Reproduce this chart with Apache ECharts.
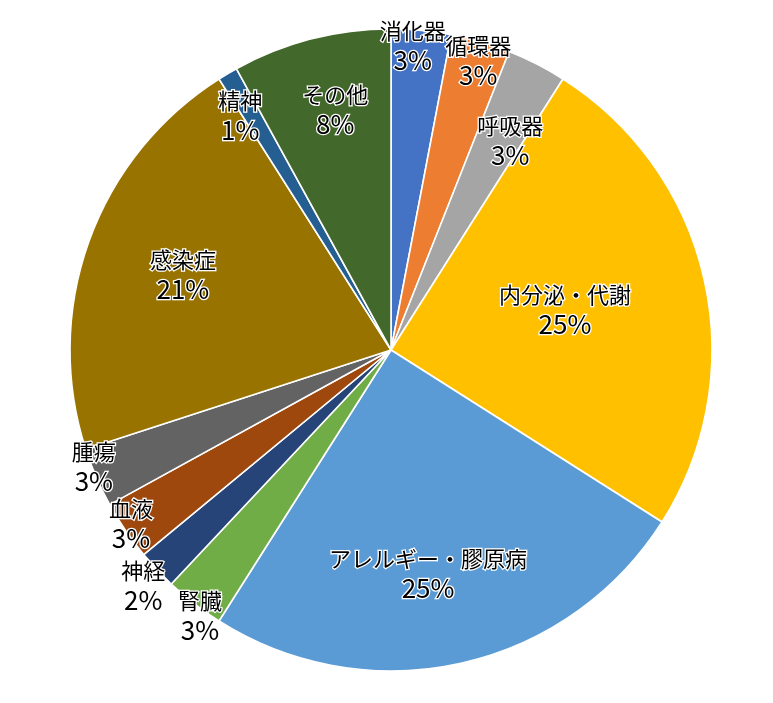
<!DOCTYPE html>
<html>
<head>
<meta charset="utf-8">
<script src="https://cdn.jsdelivr.net/npm/echarts@6/dist/echarts.min.js"></script>
<style>
  html, body { margin: 0; padding: 0; background: #fff; }
  #chart { width: 773px; height: 703px; }
</style>
</head>
<body>
<div id="chart"></div>
<script>
// 診療分野別の割合（%）
const categories = ['消化器', '循環器', '呼吸器', '内分泌・代謝', 'アレルギー・膠原病', '腎臓', '神経', '血液', '腫瘍', '感染症', '精神', 'その他'];
const shares = [3, 3, 3, 25, 25, 3, 2, 3, 3, 21, 1, 8];
const colors = ['#4472C4', '#ED7D31', '#A5A5A5', '#FFC000', '#5B9BD5', '#70AD47', '#264478', '#9E480E', '#636363', '#997300', '#255E91', '#43682B'];

// ラベル配置：半径に対する位置と中心角からのずれ（度）
const labelRadius = [0.95, 0.94, 0.75, 0.556, 0.707, 1.02, 1.066, 0.975, 0.995, 0.689, 0.867, 0.767];
const labelTurn = [-1.3, 0.6, 2.7, -0.3, 3.2, -2.1, -0.4, 0.4, 1.9, 0, -2.2, 1.3];

const CX = 391, CY = 350, R = 321;

const total = shares.reduce((a, b) => a + b, 0);
const midAngles = [];
let acc = 0;
shares.forEach(v => {
  midAngles.push((acc + v / 2) / total * 360);
  acc += v;
});

const FONT = '"Noto Sans CJK JP", sans-serif';
const chart = echarts.init(document.getElementById('chart'));
chart.setOption({
  animation: false,
  color: colors,
  series: [{
    type: 'pie',
    center: [CX, CY],
    radius: R,
    startAngle: 90,
    clockwise: true,
    percentPrecision: 0,
    avoidLabelOverlap: false,
    itemStyle: { borderColor: '#fff', borderWidth: 1.6 },
    label: {
      show: true,
      position: 'inside',
      formatter: '{n|{b}}\n{p|{d}%}',
      color: '#000',
      textBorderColor: '#fff',
      textBorderWidth: 2.5,
      rich: {
        n: { fontFamily: FONT, fontSize: 22, lineHeight: 28, color: '#000', textBorderColor: '#fff', textBorderWidth: 2.5 },
        p: { fontFamily: FONT, fontSize: 26, lineHeight: 31, color: '#000', textBorderColor: '#fff', textBorderWidth: 2.5 }
      }
    },
    labelLine: { show: false },
    labelLayout: function (params) {
      const i = params.dataIndex;
      const a = (midAngles[i] + labelTurn[i]) * Math.PI / 180;
      const r = labelRadius[i] * R;
      return {
        x: CX + r * Math.sin(a),
        y: CY - r * Math.cos(a),
        align: 'center',
        verticalAlign: 'middle'
      };
    },
    data: categories.map((name, i) => ({ name: name, value: shares[i] }))
  }]
});
</script>
</body>
</html>
